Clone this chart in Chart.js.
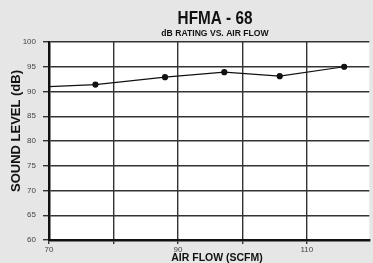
<!DOCTYPE html>
<html><head><meta charset="utf-8">
<script src="https://cdn.jsdelivr.net/npm/chart.js@4/dist/chart.umd.min.js"></script>
<style>html,body{margin:0;padding:0;background:#e6e6e6;}#wrap{width:373px;height:263px;position:relative;}</style>
</head><body><div id="wrap"><canvas id="c" width="373" height="263"></canvas></div>
<script>
const airFlow = [70, 77.2, 88, 97.2, 105.8, 115.8];
const soundLevel = [91, 91.4, 92.9, 93.9, 93.1, 95];
const pointSizes = [0, 2.5, 2.5, 2.5, 2.5, 2.5];
const xTickLabels = [70, 90, 110];
const titleText = 'HFMA - 68';
const subtitleText = 'dB RATING VS. AIR FLOW';
const xTitle = 'AIR FLOW (SCFM)';
const yTitle = 'SOUND LEVEL (dB)';

const deco = {
  id: 'deco',
  beforeDraw(chart) {
    const {ctx, chartArea: a} = chart;
    ctx.save();
    ctx.fillStyle = '#e6e6e6';
    ctx.fillRect(0, 0, chart.width, chart.height);
    ctx.fillStyle = '#ffffff';
    ctx.fillRect(a.left, a.top, a.right - a.left, a.bottom - a.top);
    ctx.restore();
  },
  afterDraw(chart) {
    const {ctx} = chart;
    ctx.save();
    ctx.fillStyle = '#111';
    ctx.textAlign = 'center';
    ctx.textBaseline = 'middle';
    ctx.save();
    ctx.translate(215, 19);
    ctx.scale(0.85, 1);
    ctx.font = 'bold 18px "Liberation Sans", Arial, sans-serif';
    ctx.fillText(titleText, 0, 0);
    ctx.restore();
    ctx.font = 'bold 8.6px "Liberation Sans", Arial, sans-serif';
    ctx.fillText(subtitleText, 215, 34);
    ctx.font = 'bold 10.5px "Liberation Sans", Arial, sans-serif';
    ctx.fillText(xTitle, 217, 258);
    ctx.translate(16, 131);
    ctx.rotate(-Math.PI / 2);
    ctx.font = 'bold 13px "Liberation Sans", Arial, sans-serif';
    ctx.fillText(yTitle, 0, 0);
    ctx.restore();
  }
};

const gridCol = c => (c.tick && Math.abs(c.tick.value % 10) < 1e-6) ? '#333' : 'rgba(0,0,0,0)';

new Chart(document.getElementById('c'), {
  type: 'line',
  data: {
    datasets: [{
      data: airFlow.map((x, i) => ({x, y: soundLevel[i]})),
      borderColor: '#111',
      borderWidth: 1.2,
      backgroundColor: '#111',
      pointRadius: pointSizes,
      pointHoverRadius: pointSizes,
      fill: false,
      tension: 0
    }]
  },
  options: {
    responsive: false,
    animation: false,
    layout: {padding: {top: 42, right: 0, left: 0, bottom: 0}},
    plugins: {legend: {display: false}, tooltip: {enabled: false}},
    scales: {
      x: {
        type: 'linear',
        min: 70, max: 119.7,
        afterFit(s) { s.height = 23; s.paddingRight = 0; },
        ticks: {
          stepSize: 10,
          autoSkip: false,
          maxRotation: 0,
          padding: 1,
          color: '#444',
          font: {family: '"Liberation Sans", Arial, sans-serif', size: 8},
          callback: v => xTickLabels.includes(v) ? String(v) : ''
        },
        grid: {color: gridCol, lineWidth: 1.4, tickLength: 4, tickColor: gridCol},
        border: {color: '#111', width: 2.5}
      },
      y: {
        min: 60, max: 100,
        afterFit(s) { s.width = 49; },
        ticks: {
          stepSize: 5,
          padding: 7,
          color: '#444',
          font: {family: '"Liberation Sans", Arial, sans-serif', size: 8}
        },
        grid: {color: '#333', lineWidth: 1.4, tickLength: 6, tickColor: '#333'},
        border: {color: '#111', width: 2.5}
      }
    }
  },
  plugins: [deco]
});
</script>
</body></html>
